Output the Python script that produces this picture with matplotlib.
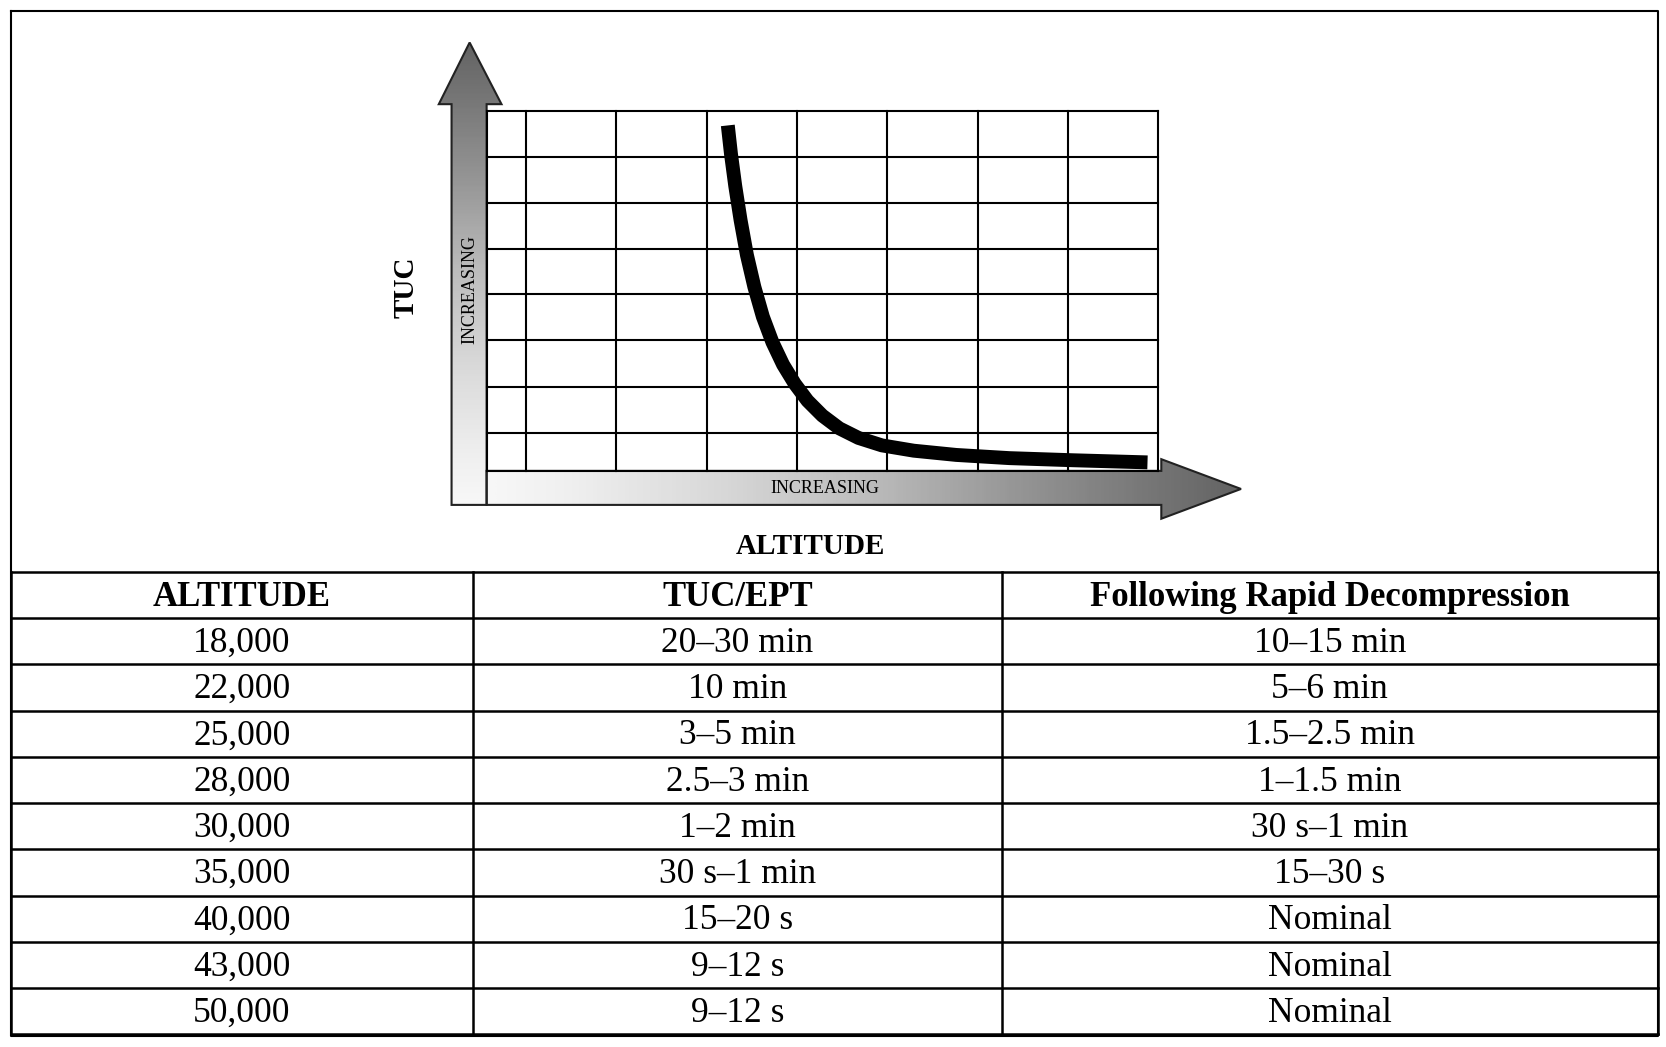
import numpy as np
import matplotlib.pyplot as plt
from matplotlib.patches import Polygon

# table data
altitudes = ['18,000', '22,000', '25,000', '28,000', '30,000', '35,000', '40,000', '43,000', '50,000']
tuc_ept = ['20\u201330 min', '10 min', '3\u20135 min', '2.5\u20133 min', '1\u20132 min',
           '30 s\u20131 min', '15\u201320 s', '9\u201312 s', '9\u201312 s']
rapid = ['10\u201315 min', '5\u20136 min', '1.5\u20132.5 min', '1\u20131.5 min', '30 s\u20131 min',
         '15\u201330 s', 'Nominal', 'Nominal', 'Nominal']
headers = ['ALTITUDE', 'TUC/EPT', 'Following Rapid Decompression']

# curve sketch (altitude vs TUC, in picture units)
curve_x = [685, 688, 692, 697, 703, 710, 718, 727, 737, 748, 760, 774, 790, 808, 830, 860, 900, 950, 1010, 1080]
curve_y = [118, 145, 175, 207, 240, 270, 298, 322, 343, 361, 377, 391, 403, 412, 419, 424, 428, 431, 433, 435]

W, H = 1568, 985
fig = plt.figure(figsize=(16.66, 10.47), dpi=100)
ax = fig.add_axes([0, 0, 1, 1])
ax.set_xlim(0, W)
ax.set_ylim(H, 0)
ax.axis('off')
serif = 'Liberation Serif'

# outer border
ax.plot([10, 1560, 1560, 10, 10], [10, 10, 975, 975, 10], color='black', lw=1.5)


def gradient_poly(pts, horizontal):
    poly = Polygon(pts, closed=True, facecolor='none', edgecolor='#222222', lw=1.5, zorder=3)
    ax.add_patch(poly)
    xs = [p[0] for p in pts]
    ys = [p[1] for p in pts]
    g = np.linspace(0, 1, 256)
    if horizontal:
        img = g[None, :]
    else:
        img = g[::-1][:, None]  # row 0 = top = dark
    im = ax.imshow(img, cmap='Greys', vmin=-0.1, vmax=1.5,
                   extent=[min(xs), max(xs), max(ys), min(ys)],
                   origin='upper', aspect='auto', zorder=2)
    im.set_clip_path(poly)
    ax.set_xlim(0, W)
    ax.set_ylim(H, 0)


# vertical arrow (dark at top)
gradient_poly([(425, 475), (425, 98), (413, 98), (442, 40), (472, 98), (458, 98), (458, 475)], False)
# horizontal arrow (dark at right)
gradient_poly([(458, 475), (458, 443), (1093, 443), (1093, 432), (1168, 460), (1093, 488), (1093, 475)], True)

# grid
for x in [458, 495, 580, 665, 750, 835, 920, 1005, 1090]:
    ax.plot([x, x], [104, 443], color='black', lw=1.5, zorder=4)
for y in [104, 148, 191, 234, 277, 320, 364, 407, 443]:
    ax.plot([458, 1090], [y, y], color='black', lw=1.5, zorder=4)

ax.plot(curve_x, curve_y, color='black', lw=10, solid_capstyle='butt',
        solid_joinstyle='round', zorder=5)

ax.text(442, 272, 'INCREASING', rotation=90, ha='center', va='center', fontsize=13,
        family=serif, zorder=6)
ax.text(776, 460, 'INCREASING', ha='center', va='center', fontsize=13, family=serif, zorder=6)
ax.text(382, 270, 'TUC', rotation=90, ha='center', va='center', fontsize=21,
        family=serif, weight='bold')
ax.text(763, 514, 'ALTITUDE', ha='center', va='center', fontsize=21, family=serif, weight='bold')

# table
cols = [10, 445, 943, 1560]
top, row_h = 538, 43.5
n = len(altitudes) + 1
for i in range(n + 1):
    ax.plot([10, 1560], [top + i * row_h] * 2, color='black', lw=1.8)
for x in cols:
    ax.plot([x, x], [top, top + n * row_h], color='black', lw=1.8)
for j, h in enumerate(headers):
    ax.text((cols[j] + cols[j + 1]) / 2, top + row_h / 2 + 2, h, ha='center', va='center',
            fontsize=25, family=serif, weight='bold')
for i, row in enumerate(zip(altitudes, tuc_ept, rapid)):
    for j, val in enumerate(row):
        ax.text((cols[j] + cols[j + 1]) / 2, top + (i + 1.5) * row_h + 2, val,
                ha='center', va='center', fontsize=25.5, family=serif)

fig.savefig('out.png', dpi=100)
